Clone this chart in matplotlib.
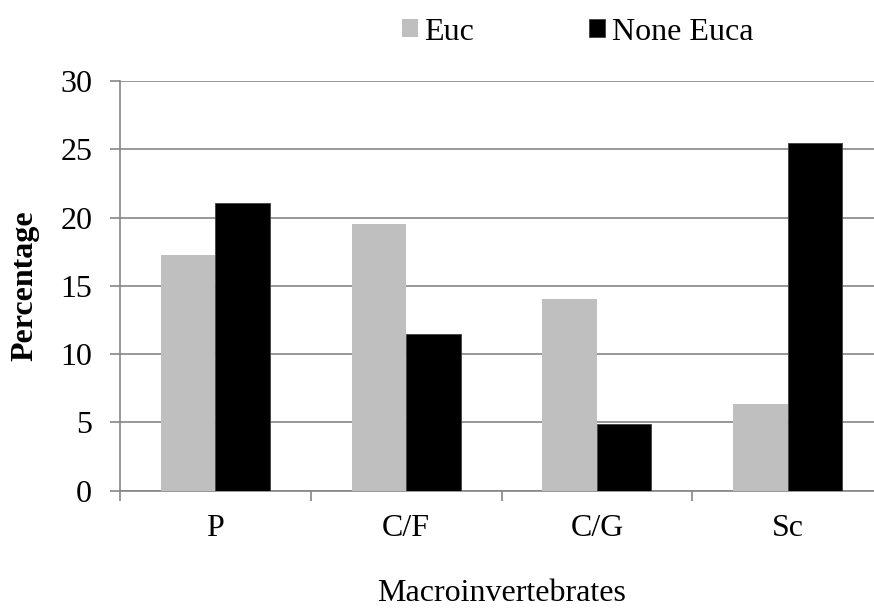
#!/usr/bin/python3

import numpy as np
import matplotlib
matplotlib.use('Agg')
import matplotlib.pyplot as plt

# values
groups = ['P', 'C/F', 'C/G', 'Sc']
euc = [17.3, 19.55, 14.05, 6.35]
none_euca = [21.05, 11.45, 4.9, 25.45]
series_names = ['Euc', 'None Euca']
yticks = [0, 5, 10, 15, 20, 25, 30]


def main():
	''' Grouped bar chart, Excel-like look'''

	plt.rcParams['font.family'] = ['Liberation Serif', 'DejaVu Serif']
	fs = 23

	fig = plt.figure(figsize=(8.74, 6.08), dpi=100)
	# axes run slightly past the right edge, as in the original image
	ax = fig.add_axes([0.1373, 0.193, 0.873, 0.6734])

	x = np.arange(len(groups)) + 0.5
	w = 1 / 3.5
	ax.bar(x - w / 2, euc, width=w, color='#bfbfbf', label=series_names[0], zorder=3)
	ax.bar(x + w / 2, none_euca, width=w, color='black', edgecolor='#404040',
		linewidth=0.6, label=series_names[1], zorder=3)

	ax.set_xlim(0, len(groups))
	ax.set_ylim(0, 30)
	ax.set_yticks(yticks)
	ax.set_xticks(np.arange(len(groups) + 1))
	ax.set_xticklabels([])
	ax.set_xticks(x, minor=True)
	ax.set_xticklabels(groups, minor=True, fontsize=fs)
	ax.tick_params(axis='x', which='minor', length=0, pad=17)
	ax.tick_params(axis='x', which='major', length=7, width=1.2, color='#868686', direction='out')
	ax.tick_params(axis='y', length=7, width=1.2, color='#868686', labelsize=fs, pad=13)

	ax.yaxis.grid(True, color='#868686', linewidth=1.2, zorder=0)
	for side in ['top', 'right']:
		ax.spines[side].set_visible(False)
	for side in ['left', 'bottom']:
		ax.spines[side].set_color('#868686')
		ax.spines[side].set_linewidth(1.2)

	ax.set_ylabel('Percentage', fontsize=fs, fontweight='bold', labelpad=15)
	ax.set_xlabel('Macroinvertebrates', fontsize=fs, labelpad=26)

	fig.legend(loc='center', bbox_to_anchor=(0.661, 0.947), ncol=2, frameon=False,
		fontsize=fs, handlelength=0.5, handleheight=0.5, handletextpad=0.2,
		columnspacing=3.6)

	plt.savefig('out.png', dpi=100)
	plt.close()

	return


if __name__ == '__main__':
	main()
